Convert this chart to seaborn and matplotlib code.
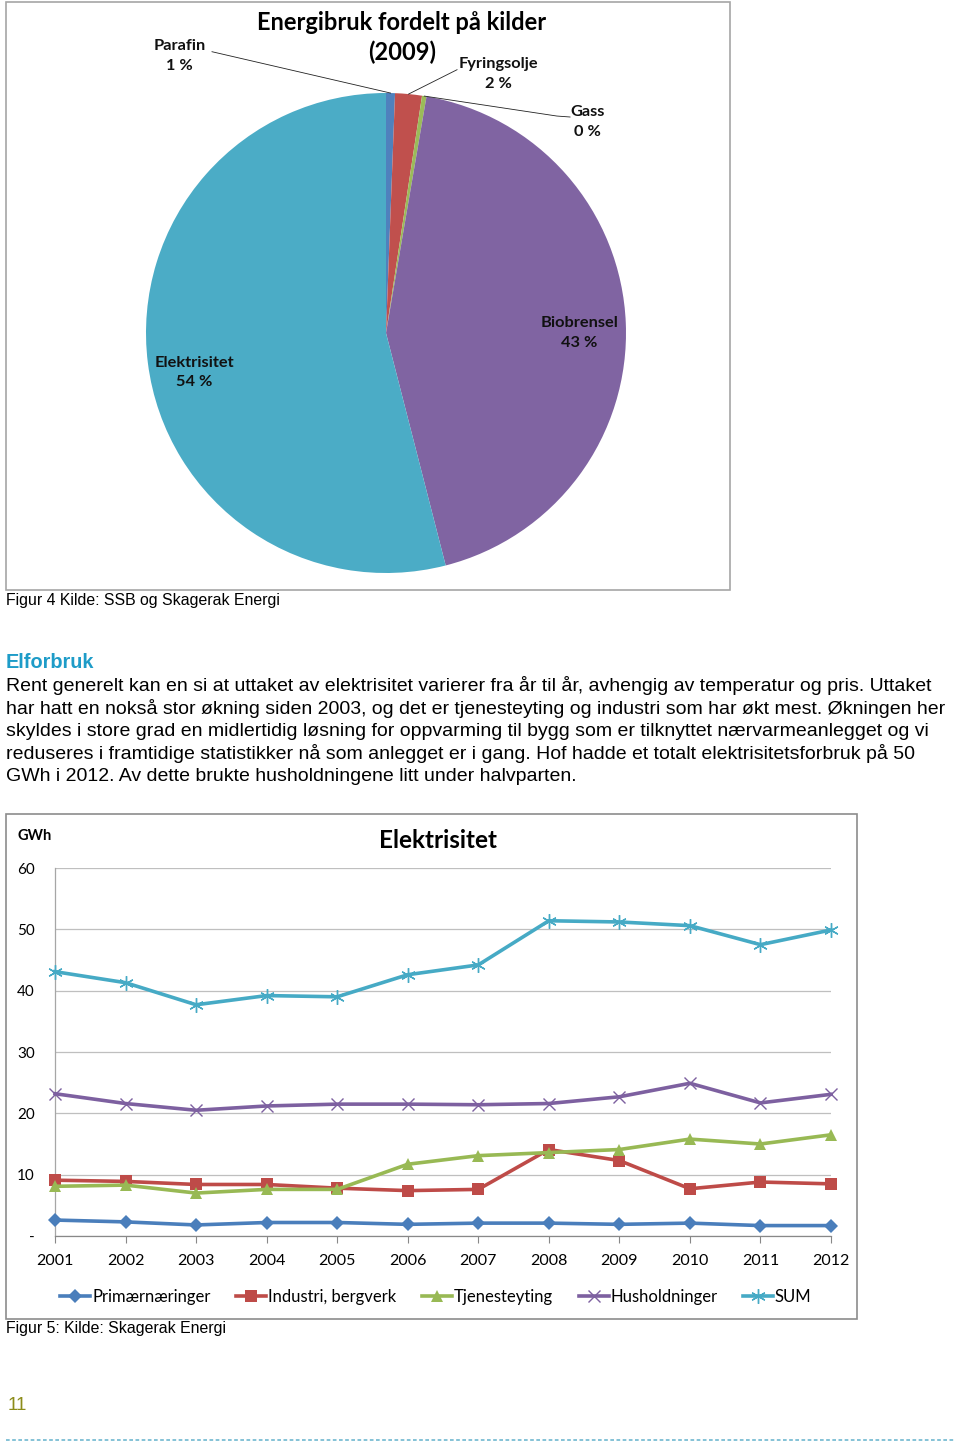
import numpy as np
import pandas as pd
import matplotlib
matplotlib.use("Agg")
import matplotlib.pyplot as plt
import seaborn as sns
from matplotlib.patches import Rectangle
from matplotlib.lines import Line2D

# ---------------- data ----------------
pie_title_lines = ["Energibruk fordelt på kilder", "(2009)"]
pie_sources = ["Parafin", "Fyringsolje", "Gass", "Biobrensel", "Elektrisitet"]
pie_shares = [0.6, 1.8, 0.3, 43.3, 54.0]
pie_colors = ["#4F81BD", "#C0504D", "#9BBB59", "#8064A2", "#4BACC6"]

years = [2001, 2002, 2003, 2004, 2005, 2006, 2007, 2008, 2009, 2010, 2011, 2012]
primaer = [2.6, 2.3, 1.8, 2.2, 2.2, 1.9, 2.1, 2.1, 1.9, 2.1, 1.7, 1.7]
industri = [9.1, 8.9, 8.4, 8.4, 7.8, 7.4, 7.6, 14.1, 12.3, 7.7, 8.8, 8.5]
tjeneste = [8.1, 8.3, 7.0, 7.6, 7.6, 11.7, 13.1, 13.6, 14.1, 15.8, 15.0, 16.5]
hushold = [23.2, 21.6, 20.5, 21.2, 21.5, 21.5, 21.4, 21.6, 22.7, 24.9, 21.7, 23.1]
total = [43.1, 41.3, 37.7, 39.2, 39.0, 42.6, 44.2, 51.4, 51.2, 50.6, 47.5, 49.9]
series_names = ["Primærnæringer", "Industri, bergverk", "Tjenesteyting", "Husholdninger", "SUM"]
series_colors = ["#4A7EBB", "#BE4B48", "#98B954", "#7D60A0", "#46AAC5"]
y_ticks = [0, 10, 20, 30, 40, 50, 60]
y_tick_labels = ["-", "10", "20", "30", "40", "50", "60"]

caption4 = "Figur 4 Kilde: SSB og Skagerak Energi"
caption5 = "Figur 5: Kilde: Skagerak Energi"
heading = "Elforbruk"
body_lines = [
    "Rent generelt kan en si at uttaket av elektrisitet varierer fra år til år, avhengig av temperatur og pris. Uttaket",
    "har hatt en nokså stor økning siden 2003, og det er tjenesteyting og industri som har økt mest. Økningen her",
    "skyldes i store grad en midlertidig løsning for oppvarming til bygg som er tilknyttet nærvarmeanlegget og vi",
    "reduseres i framtidige statistikker nå som anlegget er i gang. Hof hadde et totalt elektrisitetsforbruk på 50",
    "GWh i 2012. Av dette brukte husholdningene litt under halvparten.",
]
page_number = "11"

# ---------------- layout helpers ----------------
W, H = 960, 1447
fig = plt.figure(figsize=(W / 100, H / 100), dpi=100)
fig.patch.set_facecolor("white")

def fx(x):
    return x / W

def fy(y):
    return 1 - y / H

CAL = ["Lato", "DejaVu Sans"]
ARIAL = ["Liberation Sans", "DejaVu Sans"]

# ---------------- pie chart ----------------
fig.patches.append(Rectangle((fx(6), fy(590)), (730 - 6) / W, (590 - 2) / H,
                             transform=fig.transFigure, fill=False,
                             ec="#A6A6A6", lw=1.2))
ax_pie = fig.add_axes([fx(146), fy(573), 480 / W, 480 / H])
wedges, _ = ax_pie.pie(pie_shares, colors=pie_colors, startangle=90,
                       counterclock=False, radius=1.0,
                       wedgeprops=dict(linewidth=0))
ax_pie.set_xlim(-1, 1)
ax_pie.set_ylim(-1, 1)
ax_pie.axis("off")

total_share = sum(pie_shares)
pct = [f"{v / total_share * 100:.0f} %" for v in pie_shares]

# label layout (pie axes units, radius = 1)
label_pos = [(-0.86, 1.155), (0.47, 1.08), (0.838, 0.88), (0.805, 0.0), (-0.80, -0.165)]
leader_pts = [[(-0.725, 1.172)], [(0.296, 1.097)], [(0.767, 0.90), (0.712, 0.904)], None, None]
for w, name, p, (lx, ly), lead in zip(wedges, pie_sources, pct, label_pos, leader_pts):
    ax_pie.text(lx, ly, f"{name}\n{p}", ha="center", va="center", fontsize=11.8,
                fontweight="bold", family=CAL, linespacing=1.5, color="#111111")
    if lead is not None:
        th = np.deg2rad((w.theta1 + w.theta2) / 2)
        xs = [q[0] for q in lead] + [np.cos(th)]
        ys = [q[1] for q in lead] + [np.sin(th)]
        ax_pie.plot(xs, ys, color="#222222", lw=0.6, clip_on=False)

fig.text(fx(402), fy(22), pie_title_lines[0], ha="center", va="center", fontsize=17,
         fontweight="bold", family=CAL)
fig.text(fx(402), fy(52), pie_title_lines[1], ha="center", va="center", fontsize=17,
         fontweight="bold", family=CAL)

fig.text(fx(6), fy(601), caption4, ha="left", va="center", fontsize=11.4, family=ARIAL)

# ---------------- text block ----------------
fig.text(fx(6), fy(663), heading, ha="left", va="center", fontsize=14.3,
         fontweight="bold", family=ARIAL, color="#1E9CC8")
for i, line in enumerate(body_lines):
    fig.text(fx(6), fy(686 + i * 22.6), line, ha="left", va="center",
             fontsize=14.0, family=ARIAL)

# ---------------- line chart ----------------
fig.patches.append(Rectangle((fx(6), fy(1319)), (857 - 6) / W, (1319 - 814) / H,
                             transform=fig.transFigure, fill=False,
                             ec="#8C8C8C", lw=1.2))
ax = fig.add_axes([fx(55), fy(1236), (831 - 55) / W, (1236 - 868) / H])

df = pd.DataFrame({"År": years})
for name, vals in zip(series_names, [primaer, industri, tjeneste, hushold, total]):
    df[name] = vals

marker_specs = [
    dict(marker="D", markersize=7, markeredgewidth=0),
    dict(marker="s", markersize=8, markeredgewidth=0),
    dict(marker="^", markersize=8.5, markeredgewidth=0),
    dict(marker="x", markersize=8.5, markeredgewidth=1.0),
    dict(marker=(6, 2, 0), markersize=10.5, markeredgewidth=1.0),
]
handles = []
for name, col, mk in zip(series_names, series_colors, marker_specs):
    sns.lineplot(data=df, x="År", y=name, ax=ax, color=col, linewidth=2.6,
                 markeredgecolor=col, **mk, clip_on=False, zorder=3)
    handles.append(Line2D([0], [0], color=col, lw=2.6, markeredgecolor=col, **mk))

ax.set_xlim(years[0], years[-1])
ax.set_ylim(y_ticks[0], y_ticks[-1])
ax.set_xticks(years)
ax.set_xticklabels([str(y) for y in years], fontsize=11.5, family=CAL)
ax.set_yticks(y_ticks)
ax.set_yticklabels(y_tick_labels, fontsize=11, family=CAL)
ax.set_xlabel("")
ax.set_ylabel("")
ax.tick_params(axis="x", length=5, width=0.8, color="#888888", pad=8, direction="out")
ax.tick_params(axis="y", length=0, pad=14.5)
ax.grid(axis="y", color="#BFBFBF", lw=0.9)
ax.grid(axis="x", visible=False)
ax.set_axisbelow(True)
for s in ["top", "right"]:
    ax.spines[s].set_visible(False)
ax.spines["left"].set_color("#A6A6A6")
ax.spines["bottom"].set_color("#888888")
ax.spines["left"].set_linewidth(0.9)
ax.spines["bottom"].set_linewidth(0.9)
ax.set_facecolor("white")
leg = ax.get_legend()
if leg is not None:
    leg.remove()

fig.text(fx(35), fy(836), "GWh", ha="center", va="center", fontsize=10.5,
         fontweight="bold", family=CAL)
fig.text(fx(438), fy(840), "Elektrisitet", ha="center", va="center", fontsize=17.5,
         fontweight="bold", family=CAL)

fig.legend(handles, series_names, loc="center", bbox_to_anchor=(fx(436), fy(1297)),
           ncol=5, frameon=False, prop=dict(family=CAL, size=12),
           handlelength=1.8, handletextpad=0.1, columnspacing=1.55)

fig.text(fx(6), fy(1329), caption5, ha="left", va="center", fontsize=11.4, family=ARIAL)

# ---------------- page footer ----------------
fig.text(fx(8), fy(1406), page_number, ha="left", va="center", fontsize=13.5,
         family=ARIAL, color="#8C8C1A")
fig.lines.append(Line2D([fx(6), fx(955)], [fy(1440), fy(1440)], transform=fig.transFigure,
                        color="#6FB8CF", lw=1.2, dashes=(2.2, 1.5)))

fig.savefig("out.png", dpi=100, facecolor="white")
